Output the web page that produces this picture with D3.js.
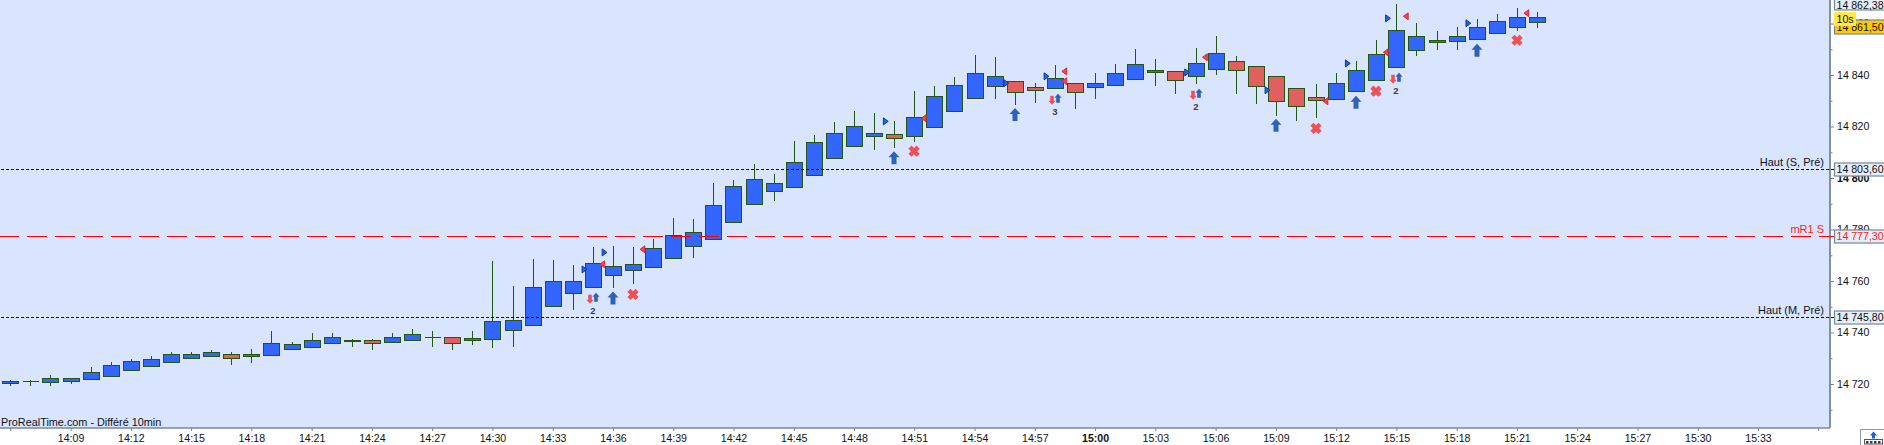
<!DOCTYPE html>
<html><head><meta charset="utf-8">
<script src="https://cdn.jsdelivr.net/npm/d3@7/dist/d3.min.js"></script>
<style>html,body{margin:0;padding:0;background:#fff;overflow:hidden}svg{display:block}text{font-family:"Liberation Sans",Arial,sans-serif;fill:#111}</style>
</head><body><svg id="c" width="1884" height="445"></svg>
<script>
const barOpen=[14720.5,14721,14720.9,14721.3,14721.8,14723,14725.3,14726.9,14728.4,14730,14730.7,14731.5,14730.7,14731.1,14733.5,14734.2,14735.8,14736.6,14737,14736.2,14737,14738.1,14738.1,14737,14737.3,14740.8,14742.8,14750.2,14755.2,14757.5,14762.2,14764.1,14765.3,14768.8,14773.5,14776.2,14782.8,14789.8,14794.8,14796.4,14801,14807.6,14812.3,14816.2,14817,14816.2,14819.7,14825.9,14830.9,14835.6,14837.5,14835.2,14834.8,14836.8,14835.2,14836,14838.3,14841,14841.4,14839.5,14842.2,14845.3,14843.4,14839.5,14834.8,14831.3,14830.55,14833.7,14837.9,14843,14849.8,14852.7,14853.1,14853.85,14856.2,14858.5,14860.45];
const barClose=[14721,14721,14722.2,14722.2,14724.5,14727.2,14728.8,14729.6,14731.5,14731.5,14732.3,14730,14731.5,14735.8,14735.4,14737,14738.1,14737,14735.8,14738.1,14739.3,14738.1,14735.8,14737.7,14744.3,14744.7,14757.5,14759.9,14759.9,14766.9,14765.7,14766.5,14772.7,14777.7,14778.9,14789.4,14796.8,14799.5,14797.9,14806.1,14813.9,14817.35,14820.1,14817.35,14815.4,14823.6,14831.7,14836,14840.65,14839.5,14833.3,14834.05,14838.7,14833.3,14836.8,14840.65,14844.15,14841.8,14837.9,14844.5,14848.4,14841.8,14835.6,14829.8,14827.8,14830.2,14836.8,14841.8,14848,14857.35,14855,14853.5,14855,14858.5,14860.85,14862.4,14862.4];
const barHigh=[14721.8,14721.8,14723.9,14722.2,14727,14728.9,14730,14731.3,14732.8,14732.8,14733.6,14732.8,14733.9,14741,14736.7,14740.2,14740.2,14737.9,14737.9,14740.2,14741.7,14741,14738.1,14741,14768.2,14758.4,14768.9,14768.5,14766.6,14773.6,14774,14773.6,14776.7,14784.7,14784.3,14798.4,14799.6,14805.8,14801.9,14814.8,14817.1,14822.1,14826.4,14825.6,14822.5,14834.2,14836.1,14839.6,14848.2,14847.4,14837.5,14837.3,14844.3,14837.3,14841.2,14844.7,14850.5,14846.6,14841.4,14850.9,14855.5,14847.8,14843.4,14839.5,14834.8,14836.8,14841.2,14845.8,14854,14868,14860.6,14857.5,14859,14862.1,14864.1,14866.4,14864.9];
const barLow=[14719.7,14719.7,14719.7,14720.5,14721.8,14723,14725.3,14726.9,14728.4,14730,14730.7,14727.9,14728.7,14731.1,14733.5,14734.2,14735.8,14734.9,14733.7,14736.2,14737,14734.9,14733.7,14735.5,14734.5,14734.9,14742.8,14750.2,14749.3,14757.5,14757.5,14759.1,14765.3,14768.8,14769.2,14776.2,14782.8,14789.8,14791.6,14796.4,14801,14807.6,14812.3,14811.4,14812.2,14814.5,14819.7,14825.9,14830.9,14831.2,14828.9,14829.65,14834.8,14827.3,14831.2,14836,14838.3,14836.25,14833.1,14836.8,14840.3,14833.1,14829.3,14824.6,14822.65,14823.6,14830.55,14833.7,14837.9,14843,14847.9,14850.2,14850.2,14853.85,14856.2,14857.35,14858.5];

const buyTriBars=[28,29,43,49,51,58,62,66,68,72];
const buyTriPrices=[14764.5,14771.1,14822,14836.8,14839.5,14841,14834.1,14844.5,14862,14860.1];
const sellTriBars=[30,32,46,53,53,60,66,69,70,76];
const sellTriPrices=[14766.5,14772.3,14823.2,14841.4,14837.6,14846.9,14829.8,14848.8,14862.8,14864];
const arrowBars=[30,44,50,63,67,73];
const arrowPrices=[14753.4,14807.9,14824.7,14820.5,14829.4,14849.6];
const crossBars=[31,45,65,68,75];
const crossPrices=[14754.8,14810.4,14819.3,14833.7,14853.5];
const pairBars=[29,52,59,69];
const pairPrices=[14753.7,14831,14832.9,14839.1];
const pairCounts=["2","3","2","2"];

const timeTicks=["14:09","14:12","14:15","14:18","14:21","14:24","14:27","14:30","14:33","14:36","14:39","14:42","14:45","14:48","14:51","14:54","14:57","15:00","15:03","15:06","15:09","15:12","15:15","15:18","15:21","15:24","15:27","15:30","15:33"];
const priceMajor=[14720,14740,14760,14780,14800,14820,14840,14860];
const priceMinor=[14710,14730,14750,14770,14790,14810,14830,14850];
const levelNames=["Haut (S, Pré)","mR1 S","Haut (M, Pré)"];
const levelValues=[14803.6,14777.3,14745.8];
const levelText=["14 803,60","14 777,30","14 745,80"];

const PR=1830,PB=428,FS="10.6px";
const x=d3.scaleLinear().domain([0,87]).range([10.3,1758]);
const y=d3.scaleLinear().domain([14720,14840]).range([384,75]);
const px=i=>Math.round(x(i))+.5, py=v=>Math.round(y(v))+.5, ly=v=>Math.floor(y(v)+.3)+.5;
const svg=d3.select("#c");
svg.append("rect").attr("width",PR).attr("height",PB).attr("fill","#d9e5ff");

const axisColor="#74899a";
const fmt=v=>{const s=String(v);return s.slice(0,2)+" "+s.slice(2)};
const ya=svg.append("g").attr("transform",`translate(${PR},0)`);
ya.append("g").call(d3.axisRight(y).tickValues(priceMinor).tickSize(2.5).tickFormat(""));
ya.append("g").call(d3.axisRight(y).tickValues(priceMajor).tickSize(4).tickPadding(3).tickFormat(fmt));
ya.selectAll("path.domain").attr("stroke",axisColor).attr("stroke-width",1.4).attr("d",`M0,0V${PB}`);
ya.selectAll("line").attr("stroke",axisColor);
ya.selectAll("text").style("font-size",FS).style("font-weight",d=>d===14800?"bold":null);

const minuteOf=t=>{const p=t.split(":");return (+p[0]*60+ +p[1])-(14*60+6)};
const xa=svg.append("g").attr("transform",`translate(0,${PB})`);
xa.call(d3.axisBottom(x).tickValues([0,...timeTicks.map(minuteOf),90]).tickSize(3).tickPadding(3).tickFormat(d=>{const m=d+14*60+6,h=Math.floor(m/60),n=m%60;const s=h+":"+String(n).padStart(2,"0");return timeTicks.includes(s)?s:""}));
xa.selectAll("path.domain").attr("stroke",axisColor).attr("stroke-width",1.4).attr("d",`M0,0H${PR}`);
xa.selectAll("line").attr("stroke",axisColor);
xa.selectAll("text").style("font-size",FS).style("font-weight",d=>d===54?"bold":null);

const idx=d3.range(barOpen.length);
const ink="#245511";
const g=svg.append("g").attr("shape-rendering","crispEdges");
g.selectAll("line.w").data(idx).join("line").attr("class","w")
 .attr("x1",px).attr("x2",px).attr("y1",i=>py(barHigh[i])).attr("y2",i=>py(barLow[i]))
 .attr("stroke",ink).attr("stroke-width",1);
g.selectAll("path.b").data(idx).join("path").attr("class","b")
 .attr("d",i=>{const t=py(Math.max(barOpen[i],barClose[i])),b=py(Math.min(barOpen[i],barClose[i]));
   return `M${px(i)-8},${t}H${px(i)+8}V${b}H${px(i)-8}Z`})
 .attr("fill",i=>barClose[i]>=barOpen[i]?"#3366ff":"#e06060")
 .attr("stroke",ink).attr("stroke-width",1);

const dash=["3 2","20 8","3 2"], levelColor=["#000","#ff0000","#000"];
levelValues.forEach((v,k)=>{
  const L=ly(v);
  svg.append("line").attr("x1",k==1?-1:1).attr("x2",1834).attr("y1",L).attr("y2",L)
   .attr("stroke",levelColor[k]).attr("stroke-width",1).attr("stroke-dasharray",dash[k]).attr("shape-rendering","crispEdges");
  svg.append("text").attr("x",1824).attr("y",L-3.5).attr("text-anchor","end")
   .style("font-size","11px").style("fill",k==1?"#ff1a1a":"#111").text(levelNames[k]);
  svg.append("rect").attr("x",1834.5).attr("y",L-6.5).attr("width",52).attr("height",13)
   .attr("fill","#e6edf7").attr("stroke",axisColor).attr("stroke-width",1.2);
  svg.append("text").attr("x",1836.5).attr("y",L+3.7).style("font-size",FS).style("fill",k==1?"#ff1a1a":"#111").text(levelText[k]);
});

const blueDk="#0a3a96", blueA="#2d62b8", redA="#f05055";
const mk=(d,f,s)=>svg.append("path").attr("d",d).attr("fill",f).attr("stroke",s||"none").attr("stroke-width",s?1:0);
buyTriBars.forEach((b,i)=>{const X=x(b)+11.7,Y=y(buyTriPrices[i]);
  mk(`M${X-2.4},${Y-3.5}L${X+2.4},${Y}L${X-2.4},${Y+3.5}Z`,"#2a62e0",blueDk)});
sellTriBars.forEach((b,i)=>{const X=x(b)-10.7,Y=y(sellTriPrices[i]);
  mk(`M${X+2.4},${Y-3.5}L${X-2.4},${Y}L${X+2.4},${Y+3.5}Z`,"#f0454a","#d8283a")});
arrowBars.forEach((b,i)=>{const X=px(b)-.5,Y=y(arrowPrices[i]);
  mk(`M${X},${Y-6.5}L${X+5.5},${Y-.5}H${X+2.5}V${Y+6.5}H${X-2.5}V${Y-.5}H${X-5.5}Z`,blueA)});
crossBars.forEach((b,i)=>{const X=px(b)-.5,Y=y(crossPrices[i]);
  const a=3.1,o=5.6;
  mk(`M${X-o},${Y-o+a}L${X-o+a},${Y-o}L${X},${Y-a}L${X+o-a},${Y-o}L${X+o},${Y-o+a}L${X+a},${Y}L${X+o},${Y+o-a}L${X+o-a},${Y+o}L${X},${Y+a}L${X-o+a},${Y+o}L${X-o},${Y+o-a}L${X-a},${Y}Z`,redA)});
pairBars.forEach((b,i)=>{const X=px(b)-.5,Y=y(pairPrices[i]);
  const bx=X+3,rx=X-3,ry=Y+2;
  mk(`M${bx},${Y-4.5}L${bx+3.6},${Y-.5}H${bx+1.8}V${Y+4.5}H${bx-1.8}V${Y-.5}H${bx-3.6}Z`,blueA);
  mk(`M${rx},${ry+4.5}L${rx+3.6},${ry+.5}H${rx+1.8}V${ry-4.5}H${rx-1.8}V${ry+.5}H${rx-3.6}Z`,redA);
  svg.append("text").attr("x",X).attr("y",Y+16.5).attr("text-anchor","middle").style("font-size","9.5px").style("font-weight","bold").style("fill","#3a3c48").text(pairCounts[i]);
});

svg.append("text").attr("x",1).attr("y",426).style("font-size","10.85px").text("ProRealTime.com - Différé 10min");

svg.append("rect").attr("x",1834.5).attr("y",-3).attr("width",52).attr("height",13).attr("fill","#e6edf7").attr("stroke",axisColor).attr("stroke-width",1.2);
svg.append("text").attr("x",1836.5).attr("y",9).style("font-size",FS).text("14 862,38");
svg.append("rect").attr("x",1834.5).attr("y",20).attr("width",52).attr("height",14).attr("fill","#ffc80a").attr("stroke",axisColor).attr("stroke-width",1.2);
svg.append("text").attr("x",1836.5).attr("y",31).style("font-size",FS).text("14 861,50");
svg.append("rect").attr("x",1834).attr("y",12).attr("width",22).attr("height",14).attr("fill","#ffe84a");
svg.append("text").attr("x",1836.5).attr("y",23).style("font-size",FS).text("10s");

svg.append("path").attr("d","M1860.5,445V429.5H1884").attr("fill","none").attr("stroke","#8a9aa8");
svg.append("path").attr("d","M1873.5,431.5L1877,435.5H1875V438.5H1872V435.5H1870Z").attr("fill","#1a5ee0");
svg.append("rect").attr("x",1864.5).attr("y",439.5).attr("width",18).attr("height",4.5).attr("fill","#fff").attr("stroke","#556");
svg.append("g").selectAll("rect").data([0,1,2,3]).join("rect").attr("x",k=>1866+k*4).attr("y",441).attr("width",2.5).attr("height",2.5).attr("fill","#333c48");
</script></body></html>
